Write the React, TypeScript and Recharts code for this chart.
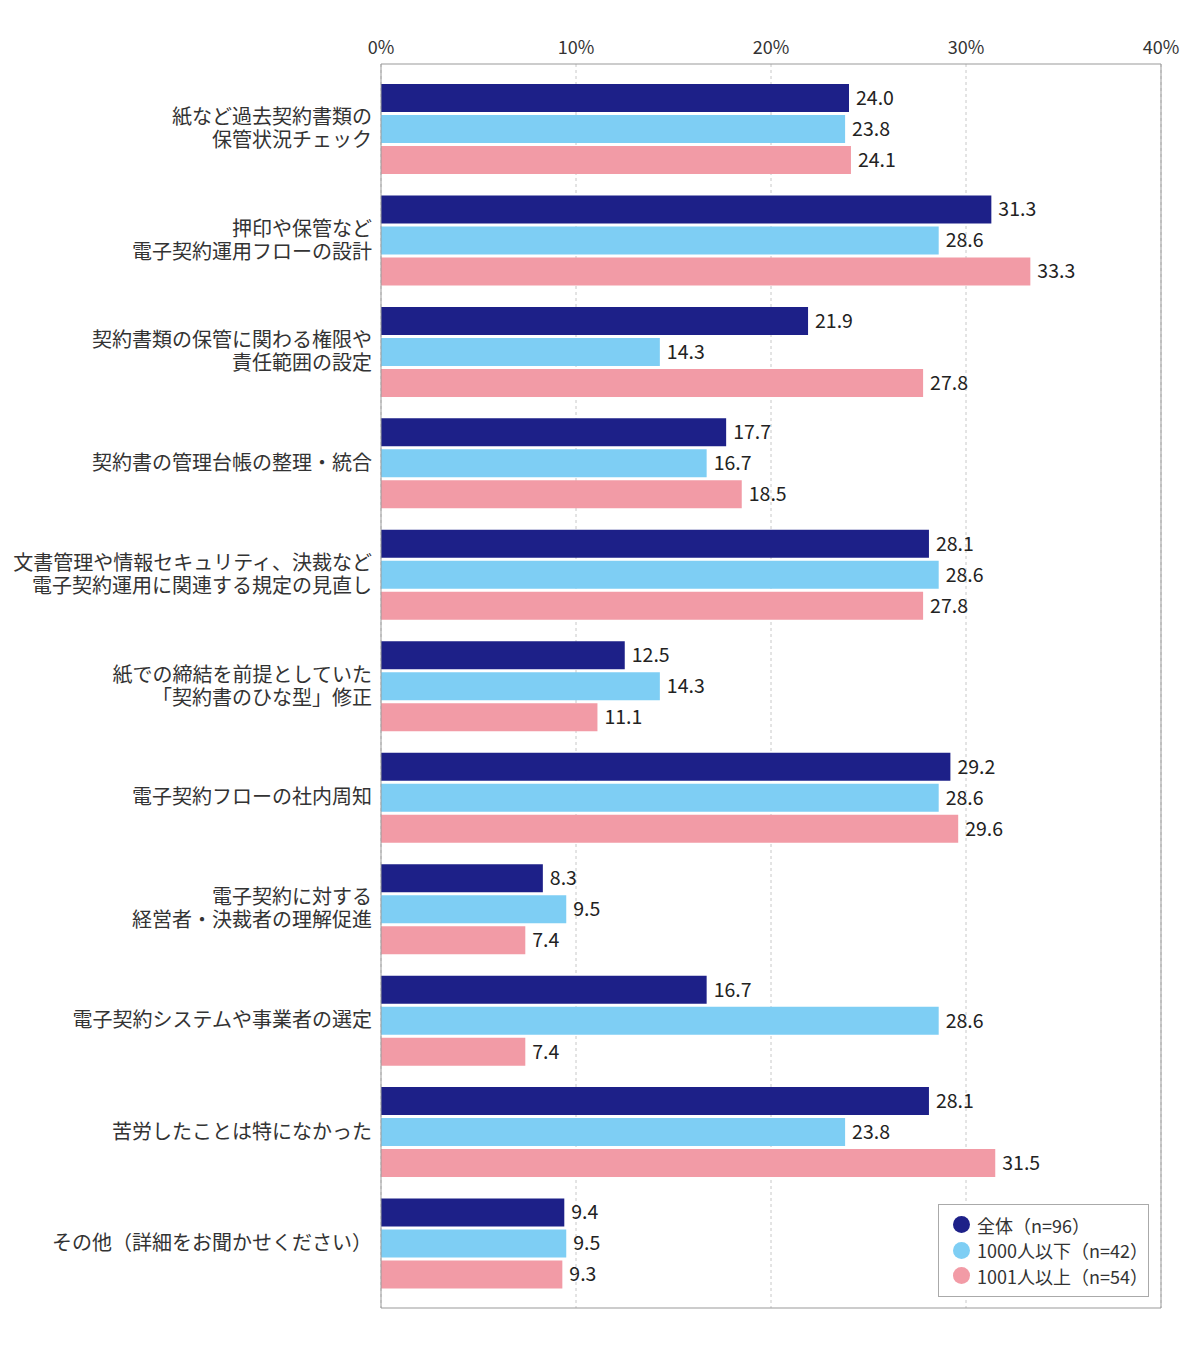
import {BarChart, Bar, XAxis, YAxis, CartesianGrid, LabelList, Legend} from 'recharts';

const categories = [
    '紙など過去契約書類の\n保管状況チェック',
    '押印や保管など\n電子契約運用フローの設計',
    '契約書類の保管に関わる権限や\n責任範囲の設定',
    '契約書の管理台帳の整理・統合',
    '文書管理や情報セキュリティ、決裁など\n電子契約運用に関連する規定の見直し',
    '紙での締結を前提としていた\n「契約書のひな型」修正',
    '電子契約フローの社内周知',
    '電子契約に対する\n経営者・決裁者の理解促進',
    '電子契約システムや事業者の選定',
    '苦労したことは特になかった',
    'その他（詳細をお聞かせください）',
];

const allValues = [24.0, 31.3, 21.9, 17.7, 28.1, 12.5, 29.2, 8.3, 16.7, 28.1, 9.4];
const smallValues = [23.8, 28.6, 14.3, 16.7, 28.6, 14.3, 28.6, 9.5, 28.6, 23.8, 9.5];
const largeValues = [24.1, 33.3, 27.8, 18.5, 27.8, 11.1, 29.6, 7.4, 7.4, 31.5, 9.3];

const xTicks = [0, 10, 20, 30, 40];

const seriesNames = ['全体（n=96）', '1000人以下（n=42）', '1001人以上（n=54）'];

const colors = ['#1d2088', '#7ecef4', '#f29ba6'];
const font = '"Noto Sans CJK JP", "Noto Sans", sans-serif';

const chartData = categories.map((name, i) => ({
    name,
    all: allValues[i],
    small: smallValues[i],
    large: largeValues[i],
}));

const CategoryTick = ({x, y, payload}: any) => {
    const lines: string[] = String(payload.value).split('\n');
    const lineHeight = 23;
    const startDy = -((lines.length - 1) * lineHeight) / 2 - 2;
    return (
        <text x={x} y={y} textAnchor='end' fill='#333' fontSize={20} fontFamily={font} dominantBaseline='central'>
            {lines.map((line, i) => (
                <tspan key={i} x={x} dy={i === 0 ? startDy : lineHeight}>
                    {line}
                </tspan>
            ))}
        </text>
    );
};

const LegendBox = () => (
    <div
        style={{
            border: '1px solid #aaa',
            background: '#fff',
            padding: '7px 0 8px 14px',
            fontFamily: font,
            fontSize: 18,
            color: '#333',
            boxSizing: 'border-box',
            width: 211,
            height: 93,
            whiteSpace: 'nowrap',
            lineHeight: 1,
        }}
    >
        {seriesNames.map((name, i) => (
            <div key={name} style={{display: 'flex', alignItems: 'center', height: 25.5}}>
                <span
                    style={{
                        display: 'inline-block',
                        flex: 'none',
                        width: 17,
                        height: 17,
                        borderRadius: 9,
                        background: colors[i],
                        marginRight: 7,
                    }}
                />
                <span>{name}</span>
            </div>
        ))}
    </div>
);

const App = () => {
    const labelStyle = {fill: '#222', fontSize: 19.5, fontFamily: font};
    const fmt = (v: any) => Number(v).toFixed(1);
    return (
        <div style={{position: 'absolute', left: 0, top: 0}}>
            <BarChart
                width={1200}
                height={1354}
                data={chartData}
                layout='vertical'
                margin={{top: 4, right: 38, bottom: 45, left: 0}}
                barSize={28}
                barGap={3}
            >
                <CartesianGrid horizontal={false} strokeDasharray='3 3' stroke='#c8c8c8' />
                <XAxis
                    type='number'
                    orientation='top'
                    domain={[0, 40]}
                    ticks={xTicks}
                    tickFormatter={(v: number) => `${v}%`}
                    height={60}
                    tickLine={false}
                    tickSize={0}
                    tickMargin={10}
                    axisLine={{stroke: '#999'}}
                    tick={{fill: '#333', fontSize: 18, fontFamily: font}}
                    interval={0}
                />
                <XAxis
                    xAxisId='bottom'
                    type='number'
                    orientation='bottom'
                    domain={[0, 40]}
                    ticks={xTicks}
                    height={1}
                    tick={false}
                    tickLine={false}
                    axisLine={{stroke: '#999'}}
                />
                <YAxis
                    type='category'
                    dataKey='name'
                    width={381}
                    padding={{top: 9, bottom: 9}}
                    tickLine={false}
                    tickSize={0}
                    tickMargin={9}
                    axisLine={{stroke: '#999'}}
                    tick={<CategoryTick />}
                    interval={0}
                />
                <YAxis
                    yAxisId='right'
                    type='category'
                    dataKey='name'
                    orientation='right'
                    width={1}
                    tick={false}
                    tickLine={false}
                    axisLine={{stroke: '#999'}}
                />
                <Legend
                    layout='horizontal'
                    verticalAlign='middle'
                    align='center'
                    content={<LegendBox />}
                    wrapperStyle={{left: 938, top: 1204, width: 211, height: 93}}
                />
                <Bar dataKey='all' name={seriesNames[0]} fill={colors[0]} isAnimationActive={false}>
                    <LabelList dataKey='all' position='right' offset={7} formatter={fmt} style={labelStyle} />
                </Bar>
                <Bar dataKey='small' name={seriesNames[1]} fill={colors[1]} isAnimationActive={false}>
                    <LabelList dataKey='small' position='right' offset={7} formatter={fmt} style={labelStyle} />
                </Bar>
                <Bar dataKey='large' name={seriesNames[2]} fill={colors[2]} isAnimationActive={false}>
                    <LabelList dataKey='large' position='right' offset={7} formatter={fmt} style={labelStyle} />
                </Bar>
            </BarChart>
        </div>
    );
};

export default App;
